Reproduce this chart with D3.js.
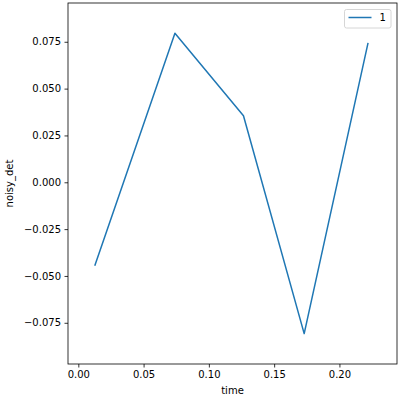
<!DOCTYPE html>
<html>
<head>
<meta charset="utf-8">
<script src="https://cdn.jsdelivr.net/npm/d3@7"></script>
<style>
  body { margin: 0; background: #fff; }
  svg { display: block; font-family: "DejaVu Sans", sans-serif; }
  .axis text { font-family: "DejaVu Sans", sans-serif; font-size: 10px; fill: #000; }
  .axis path, .axis line { stroke: #000; stroke-width: 0.8; }
</style>
</head>
<body>
<svg id="chart" width="400" height="400"></svg>
<script>
// series
const time = [0.0128, 0.0740, 0.1265, 0.1730, 0.2218];
const noisyDet = [-0.0442, 0.0796, 0.0355, -0.0808, 0.0740];
const xTicks = [0.00, 0.05, 0.10, 0.15, 0.20];
const yTicks = [-0.075, -0.050, -0.025, 0.000, 0.025, 0.050, 0.075];
const seriesName = '1';

const margin = {left: 68, top: 3, right: 3, bottom: 36};
const width = 400 - margin.left - margin.right;
const height = 400 - margin.top - margin.bottom;

const svg = d3.select('#chart');
const g = svg.append('g')
  .attr('transform', 'translate(' + margin.left + ',' + margin.top + ')');

const x = d3.scaleLinear()
  .domain([-0.0079, 0.2441])
  .range([0, width]);

const y = d3.scaleLinear()
  .domain([-0.0970, 0.0957])
  .range([height, 0]);

const xAxis = d3.axisBottom(x)
  .tickValues(xTicks)
  .tickFormat(d3.format('.2f'))
  .tickSize(3.5)
  .tickPadding(3.5);

const yAxis = d3.axisLeft(y)
  .tickValues(yTicks)
  .tickFormat(d3.format('.3f'))
  .tickSize(3.5)
  .tickPadding(3.5);

g.append('g')
  .attr('class', 'axis')
  .attr('transform', 'translate(0,' + height + ')')
  .call(xAxis)
  .call(a => a.select('.domain').remove());

g.append('g')
  .attr('class', 'axis')
  .call(yAxis)
  .call(a => a.select('.domain').remove());

const line = d3.line()
  .x((d, i) => x(time[i]))
  .y(d => y(d));

g.append('path')
  .datum(noisyDet)
  .attr('fill', 'none')
  .attr('stroke', '#1f77b4')
  .attr('stroke-width', 1.5)
  .attr('stroke-linejoin', 'round')
  .attr('stroke-linecap', 'square')
  .attr('d', line);

// frame
g.append('rect')
  .attr('width', width)
  .attr('height', height)
  .attr('fill', 'none')
  .attr('stroke', '#000')
  .attr('stroke-width', 0.8);

// axis labels
svg.append('text')
  .attr('x', margin.left + width / 2)
  .attr('y', 394)
  .attr('text-anchor', 'middle')
  .style('font-size', '10px')
  .text('time');

svg.append('text')
  .attr('transform', 'translate(13,' + (margin.top + height / 2) + ') rotate(-90)')
  .attr('text-anchor', 'middle')
  .style('font-size', '10px')
  .text('noisy_det');

// legend
const legend = g.append('g')
  .attr('transform', 'translate(' + (width - 52.5) + ',6.5)');

legend.append('rect')
  .attr('width', 46.5)
  .attr('height', 18.5)
  .attr('rx', 2)
  .attr('fill', '#fff')
  .attr('fill-opacity', 0.8)
  .attr('stroke', '#ccc')
  .attr('stroke-width', 0.8);

legend.append('line')
  .attr('x1', 4)
  .attr('x2', 27)
  .attr('y1', 8)
  .attr('y2', 8)
  .attr('stroke', '#1f77b4')
  .attr('stroke-width', 1.5);

legend.append('text')
  .attr('x', 35)
  .attr('y', 11.5)
  .style('font-size', '10px')
  .text(seriesName);
</script>
</body>
</html>
